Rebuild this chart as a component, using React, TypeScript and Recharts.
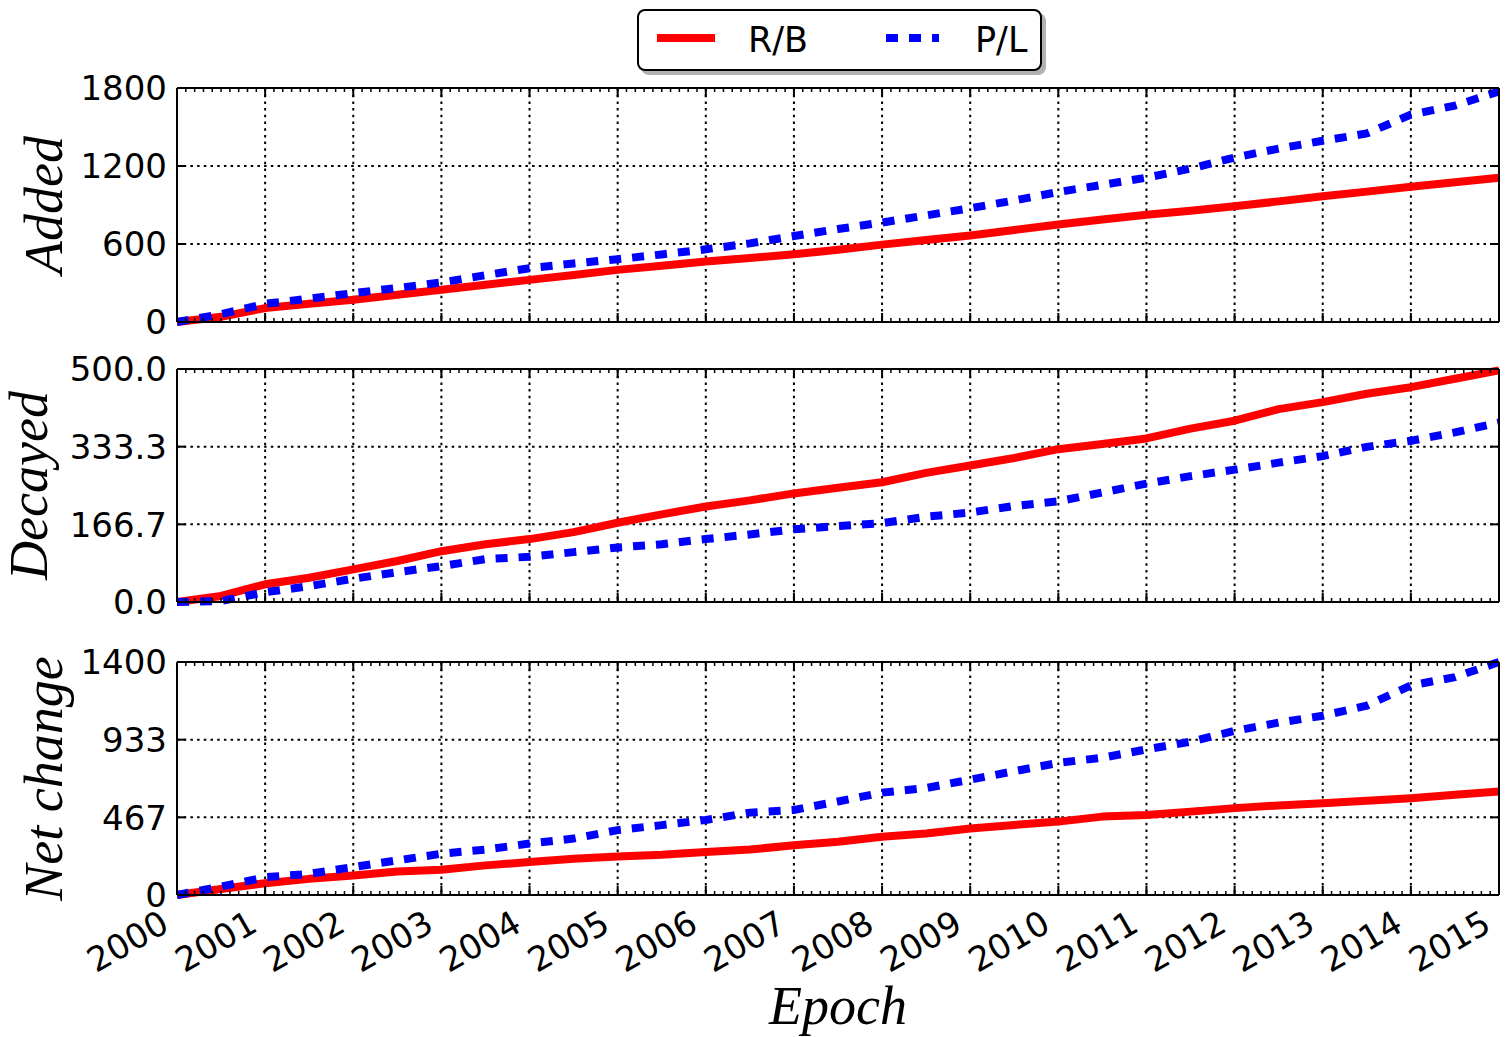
import React from 'react';
import { LineChart, Line, XAxis, YAxis, CartesianGrid } from 'recharts';

// Epochs sampled every half year
const epochs = [
  2000, 2000.5, 2001, 2001.5, 2002, 2002.5, 2003, 2003.5, 2004, 2004.5,
  2005, 2005.5, 2006, 2006.5, 2007, 2007.5, 2008, 2008.5, 2009, 2009.5,
  2010, 2010.5, 2011, 2011.5, 2012, 2012.5, 2013, 2013.5, 2014, 2014.5, 2015,
];

const addedRB = [
  0, 40, 107, 140, 171, 210, 248, 286, 324, 362,
  401, 433, 465, 493, 521, 555, 595, 630, 665, 708,
  750, 788, 825, 855, 890, 928, 967, 1003, 1040, 1075, 1109,
];
const addedPL = [
  0, 60, 140, 180, 222, 262, 304, 360, 414, 450,
  483, 520, 559, 605, 661, 715, 765, 820, 875, 935,
  1000, 1055, 1110, 1180, 1265, 1334, 1394, 1450, 1595, 1665, 1774,
];
const decayedRB = [
  0, 13, 38, 52, 70, 88, 109, 124, 135, 150,
  170, 188, 205, 218, 233, 245, 257, 277, 293, 309,
  328, 339, 351, 372, 389, 414, 429, 447, 461, 479, 497,
];
const decayedPL = [
  0, 2, 21, 34, 50, 64, 77, 92, 97, 107,
  117, 124, 135, 145, 156, 163, 169, 183, 192, 206,
  216, 235, 254, 270, 284, 299, 313, 333, 346, 364, 385,
];
const netRB = [
  0, 36, 71, 97, 117, 141, 152, 178, 198, 218,
  232, 242, 259, 273, 299, 320, 350, 370, 400, 421,
  441, 471, 481, 501, 522, 538, 552, 566, 582, 602, 622,
];
const netPL = [
  0, 50, 107, 127, 168, 208, 248, 273, 309, 339,
  390, 420, 451, 495, 511, 562, 615, 643, 693, 744,
  794, 825, 875, 921, 986, 1036, 1077, 1138, 1259, 1309, 1400,
];

const yearTicks = [2000, 2001, 2002, 2003, 2004, 2005, 2006, 2007, 2008, 2009, 2010, 2011, 2012, 2013, 2014, 2015];
const yearLabels = ['2000', '2001', '2002', '2003', '2004', '2005', '2006', '2007', '2008', '2009', '2010', '2011', '2012', '2013', '2014', '2015'];

const addedTicks = [0, 600, 1200, 1800];
const addedLabels = ['0', '600', '1200', '1800'];
const decayedTicks = [0, 500 / 3, 1000 / 3, 500];
const decayedLabels = ['0.0', '166.7', '333.3', '500.0'];
const netTicks = [0, 1400 / 3, 2800 / 3, 1400];
const netLabels = ['0', '467', '933', '1400'];

const RED = '#ff0000';
const BLUE = '#0000ff';
const TICK_FONT = '"DejaVu Sans", sans-serif';
const TITLE_FONT = '"Liberation Serif", serif';

const W = 1506;
const PLOT_L = 177;
const PLOT_R = 1499;

const xMinor = Array.from({ length: 151 }, (_, i) => 2000 + i / 10);

type PanelProps = {
  top: number;
  height: number;
  plotTop: number;
  plotBottom: number;
  max: number;
  yTicks: number[];
  yLabels: string[];
  rb: number[];
  pl: number[];
  title: string;
  titleX: number;
  showXLabels?: boolean;
};

const Panel: React.FC<PanelProps> = (p) => {
  const pt = p.plotTop - p.top;
  const pb = p.plotBottom - p.top;
  const data = epochs.map((e, i) => ({ epoch: e, rb: p.rb[i], pl: p.pl[i] }));
  const yMinor = Array.from({ length: 31 }, (_, i) => (p.max * i) / 30);

  const XMajorTick = (props: any) => {
    const x = props.payload.coordinate;
    const idx = yearTicks.indexOf(props.payload.value);
    const lx = x - 6;
    const ly = pb + 35;
    return (
      <g>
        <line x1={x} y1={pb} x2={x} y2={pb - 9} stroke="#000" strokeWidth={2} />
        <line x1={x} y1={pt} x2={x} y2={pt + 9} stroke="#000" strokeWidth={2} />
        {p.showXLabels && (
          <text
            x={lx}
            y={ly}
            transform={`rotate(-30, ${lx}, ${ly})`}
            textAnchor="end"
            fontFamily={TICK_FONT}
            fontSize={34}
            fill="#000"
          >
            {yearLabels[idx]}
          </text>
        )}
      </g>
    );
  };

  const XMinorTick = (props: any) => {
    const x = props.payload.coordinate;
    return (
      <g>
        <line x1={x} y1={pt} x2={x} y2={pt + 4} stroke="#000" strokeWidth={1.5} />
        <line x1={x} y1={pb} x2={x} y2={pb - 4} stroke="#000" strokeWidth={1.5} />
      </g>
    );
  };

  const YMajorTick = (props: any) => {
    const y = props.payload.coordinate;
    const idx = p.yTicks.indexOf(props.payload.value);
    return (
      <g>
        <line x1={PLOT_L} y1={y} x2={PLOT_L + 9} y2={y} stroke="#000" strokeWidth={2} />
        <line x1={PLOT_R} y1={y} x2={PLOT_R - 9} y2={y} stroke="#000" strokeWidth={2} />
        <text
          x={PLOT_L - 10}
          y={y}
          dy="0.36em"
          textAnchor="end"
          fontFamily={TICK_FONT}
          fontSize={34}
          fill="#000"
        >
          {p.yLabels[idx]}
        </text>
      </g>
    );
  };

  const YMinorTick = (props: any) => {
    const y = props.payload.coordinate;
    return (
      <g>
        <line x1={PLOT_L} y1={y} x2={PLOT_L + 4} y2={y} stroke="#000" strokeWidth={1.5} />
        <line x1={PLOT_R} y1={y} x2={PLOT_R - 4} y2={y} stroke="#000" strokeWidth={1.5} />
      </g>
    );
  };

  const cy = (pt + pb) / 2;

  return (
    <div style={{ position: 'absolute', left: 0, top: p.top }}>
      <LineChart
        width={W}
        height={p.height}
        data={data}
        margin={{ top: pt - 1, right: W - PLOT_R - 1, left: 0, bottom: p.height - pb - 1 }}
      >
        <CartesianGrid
          xAxisId="major"
          yAxisId="major"
          stroke="#000"
          strokeWidth={2}
          strokeDasharray="2.5 4.2"
          fill="none"
        />
        <XAxis
          xAxisId="major"
          dataKey="epoch"
          type="number"
          domain={[2000, 2015]}
          ticks={yearTicks}
          interval={0}
          height={1}
          tickLine={false}
          axisLine={{ stroke: '#000', strokeWidth: 2 }}
          tick={<XMajorTick />}
          label={
            p.showXLabels
              ? () => (
                  <text
                    x={(PLOT_L + PLOT_R) / 2}
                    y={1024 - p.top}
                    textAnchor="middle"
                    fontFamily={TITLE_FONT}
                    fontStyle="italic"
                    fontSize={54}
                    fill="#000"
                  >
                    Epoch
                  </text>
                )
              : undefined
          }
        />
        <XAxis
          xAxisId="minor"
          orientation="top"
          dataKey="epoch"
          type="number"
          domain={[2000, 2015]}
          ticks={xMinor}
          interval={0}
          height={1}
          tickLine={false}
          axisLine={{ stroke: '#000', strokeWidth: 2 }}
          tick={<XMinorTick />}
        />
        <YAxis
          yAxisId="major"
          type="number"
          domain={[0, p.max]}
          ticks={p.yTicks}
          interval={0}
          width={PLOT_L}
          tickLine={false}
          axisLine={{ stroke: '#000', strokeWidth: 2 }}
          tick={<YMajorTick />}
          label={() => (
            <text
              x={p.titleX}
              y={cy}
              transform={`rotate(-90, ${p.titleX}, ${cy})`}
              textAnchor="middle"
              fontFamily={TITLE_FONT}
              fontStyle="italic"
              fontSize={54}
              fill="#000"
            >
              {p.title}
            </text>
          )}
        />
        <YAxis
          yAxisId="minor"
          orientation="right"
          type="number"
          domain={[0, p.max]}
          ticks={yMinor}
          interval={0}
          width={1}
          tickLine={false}
          axisLine={{ stroke: '#000', strokeWidth: 2 }}
          tick={<YMinorTick />}
        />
        <Line
          xAxisId="major"
          yAxisId="major"
          type="linear"
          dataKey="rb"
          stroke={RED}
          strokeWidth={8}
          strokeLinejoin="round"
          dot={false}
          isAnimationActive={false}
        />
        <Line
          xAxisId="major"
          yAxisId="major"
          type="linear"
          dataKey="pl"
          stroke={BLUE}
          strokeWidth={8}
          strokeDasharray="12 11"
          dot={false}
          isAnimationActive={false}
        />
      </LineChart>
    </div>
  );
};

const LegendBox: React.FC = () => (
  <div
    style={{
      position: 'absolute',
      left: 637,
      top: 9,
      width: 401,
      height: 58,
      border: '2px solid #000',
      borderRadius: 8,
      background: '#fff',
      boxShadow: '4px 4px 0 rgba(0,0,0,0.3)',
    }}
  >
    <svg width={401} height={58}>
      <line x1={18} y1={27} x2={76} y2={27} stroke={RED} strokeWidth={8} />
      <text x={109} y={41} fontFamily={TICK_FONT} fontSize={35} fill="#000">R/B</text>
      <line x1={247} y1={27} x2={300} y2={27} stroke={BLUE} strokeWidth={8} strokeDasharray="12 11" />
      <text x={336} y={41} fontFamily={TICK_FONT} fontSize={35} fill="#000">P/L</text>
    </svg>
  </div>
);

export default function App() {
  return (
    <div style={{ position: 'absolute', left: 0, top: 0, width: W, height: 1037, background: '#fff' }}>
      <Panel
        top={0}
        height={350}
        plotTop={88}
        plotBottom={322}
        max={1800}
        yTicks={addedTicks}
        yLabels={addedLabels}
        rb={addedRB}
        pl={addedPL}
        title="Added"
        titleX={62}
      />
      <Panel
        top={350}
        height={275}
        plotTop={369}
        plotBottom={602}
        max={500}
        yTicks={decayedTicks}
        yLabels={decayedLabels}
        rb={decayedRB}
        pl={decayedPL}
        title="Decayed"
        titleX={47}
      />
      <Panel
        top={625}
        height={412}
        plotTop={662}
        plotBottom={895}
        max={1400}
        yTicks={netTicks}
        yLabels={netLabels}
        rb={netRB}
        pl={netPL}
        title="Net change"
        titleX={62}
        showXLabels
      />
      <LegendBox />
    </div>
  );
}
